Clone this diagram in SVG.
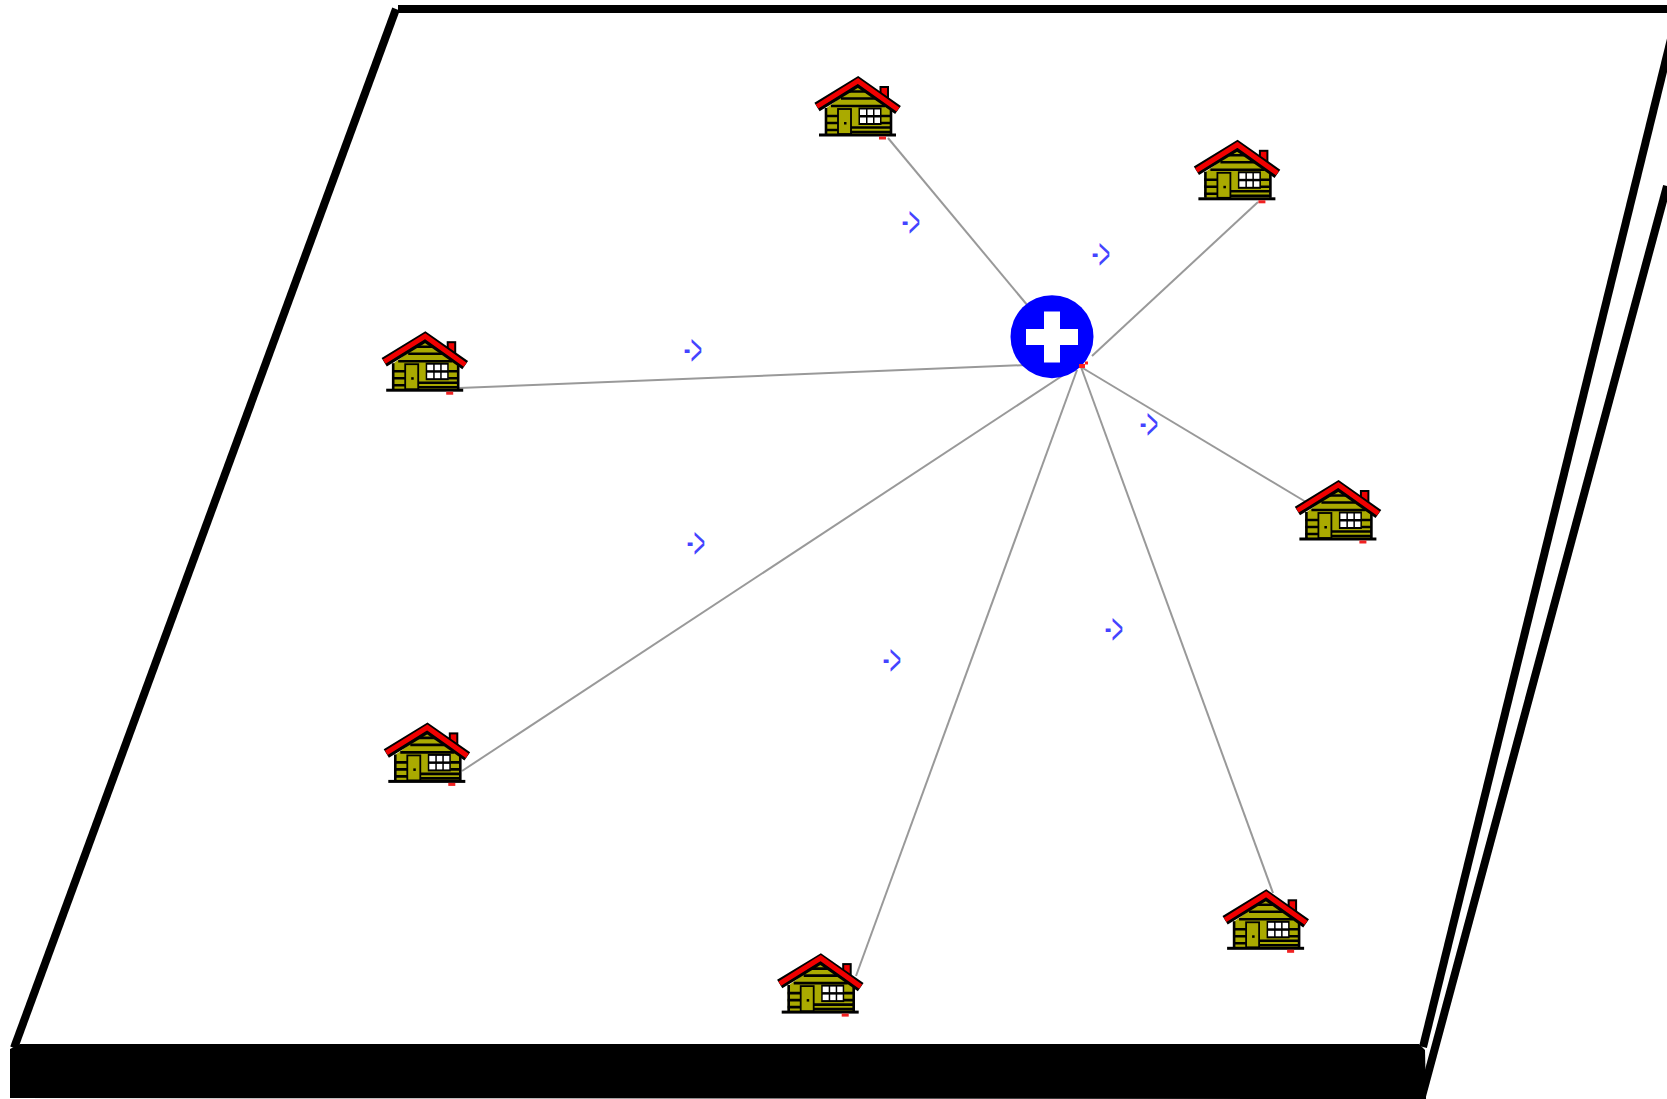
<svg xmlns="http://www.w3.org/2000/svg" width="1667" height="1099" viewBox="0 0 1667 1099">
<style>
.frame{fill:none;stroke:#000;stroke-width:8}
.edge{stroke:#999;stroke-width:2;fill:none}
.lbl{font-family:"Liberation Sans",Arial,sans-serif;font-size:20px;fill:#4444ff;text-anchor:middle}
</style>
<defs>
<filter id="soft" x="-10%" y="-10%" width="120%" height="120%"><feGaussianBlur stdDeviation="0.6"/></filter>
<g id="house" filter="url(#soft)">
<polygon points="58,15 25,39 25,64 91,64 91,39" fill="#aaaa00"/>
<g stroke="#000" stroke-width="2.600" fill="none">
<path d="M49,21.500H67M41,28.500H75M31,36H85M25,46H38M25,53H38M25,60H38M81,46H91M81,53H91M51,57.500H91M51,62H91"/>
<path d="M26,38V64M91,38V64"/>
</g>
<rect x="19" y="63.500" width="77" height="3" fill="#000"/>
<rect x="38" y="39" width="13" height="25" fill="#aaaa00" stroke="#000" stroke-width="1.800"/>
<rect x="44" y="52" width="2.500" height="2.500" fill="#000"/>
<rect x="58.500" y="37.500" width="23" height="17.500" fill="#000"/>
<g fill="#fff">
<rect x="60" y="39.500" width="6" height="5.500"/><rect x="67.500" y="39.500" width="5.500" height="5.500"/><rect x="74.500" y="39.500" width="5.500" height="5.500"/>
<rect x="60" y="47.500" width="6" height="5.500"/><rect x="67.500" y="47.500" width="5.500" height="5.500"/><rect x="74.500" y="47.500" width="5.500" height="5.500"/>
</g>
<rect x="79.500" y="16" width="9.500" height="16" fill="#000"/>
<rect x="81.500" y="18" width="5.500" height="12" fill="#f00000"/>
<polyline points="17,37 58,12 98,40" fill="none" stroke="#000" stroke-width="10"/>
<polyline points="17,36.500 58,11 98,39.500" fill="none" stroke="#f00000" stroke-width="5"/>
<rect x="79" y="66.500" width="7" height="3" fill="#f02020"/>
</g>
</defs>
<rect width="1667" height="1099" fill="#fff"/>
<g id="frame">
<path class="frame" d="M398,9H1667"/>
<path class="frame" d="M396,9L14,1048"/>
<path class="frame" d="M1671,39L1423,1047"/>
<path class="frame" d="M1667,186L1421.500,1098"/>
<polygon points="10,1049 20,1044 1419,1044 1425,1050 1426,1099 10,1098" fill="#000"/>
</g>
<g id="connectors">
<line class="edge" x1="888" y1="138" x2="1028" y2="306"/>
<line class="edge" x1="1258" y1="202" x2="1092" y2="356"/>
<line class="edge" x1="459" y1="388" x2="1026" y2="365"/>
<line class="edge" x1="1306" y1="502" x2="1081" y2="367"/>
<line class="edge" x1="462" y1="771" x2="1068" y2="372"/>
<line class="edge" x1="856" y1="976" x2="1077" y2="370"/>
<line class="edge" x1="1273" y1="893" x2="1081" y2="367"/>
</g>
<g id="hub">
<circle cx="1052" cy="336.700" r="41.500" fill="#0000ff"/>
<path d="M1044,311.500H1060V329H1078V345H1060V362.500H1044V345H1026V329H1044Z" fill="#fff" filter="url(#soft)"/>
<rect x="1079" y="364" width="6" height="4" fill="#ff2020"/>
<rect x="1085" y="361.500" width="3" height="3" fill="#ff2020"/>
</g>
<use id="house-1" href="#house" x="800" y="70"/>
<use id="house-2" href="#house" x="1179.400" y="133.800"/>
<use id="house-3" href="#house" x="367.200" y="325.200"/>
<use id="house-4" href="#house" x="1280.400" y="474"/>
<use id="house-5" href="#house" x="369.300" y="716.400"/>
<use id="house-6" href="#house" x="1208.100" y="883.300"/>
<use id="house-7" href="#house" x="762.700" y="947.100"/>
<g id="labels">
<text class="lbl" transform="translate(911,237) scale(1,2.200)"><tspan dy="-1">-</tspan><tspan dy="1">&gt;</tspan></text>
<text class="lbl" transform="translate(1101,269) scale(1,2.200)"><tspan dy="-1">-</tspan><tspan dy="1">&gt;</tspan></text>
<text class="lbl" transform="translate(693,365) scale(1,2.200)"><tspan dy="-1">-</tspan><tspan dy="1">&gt;</tspan></text>
<text class="lbl" transform="translate(1149,439) scale(1,2.200)"><tspan dy="-1">-</tspan><tspan dy="1">&gt;</tspan></text>
<text class="lbl" transform="translate(696,558) scale(1,2.200)"><tspan dy="-1">-</tspan><tspan dy="1">&gt;</tspan></text>
<text class="lbl" transform="translate(1114,644) scale(1,2.200)"><tspan dy="-1">-</tspan><tspan dy="1">&gt;</tspan></text>
<text class="lbl" transform="translate(892,675) scale(1,2.200)"><tspan dy="-1">-</tspan><tspan dy="1">&gt;</tspan></text>
</g>
</svg>
